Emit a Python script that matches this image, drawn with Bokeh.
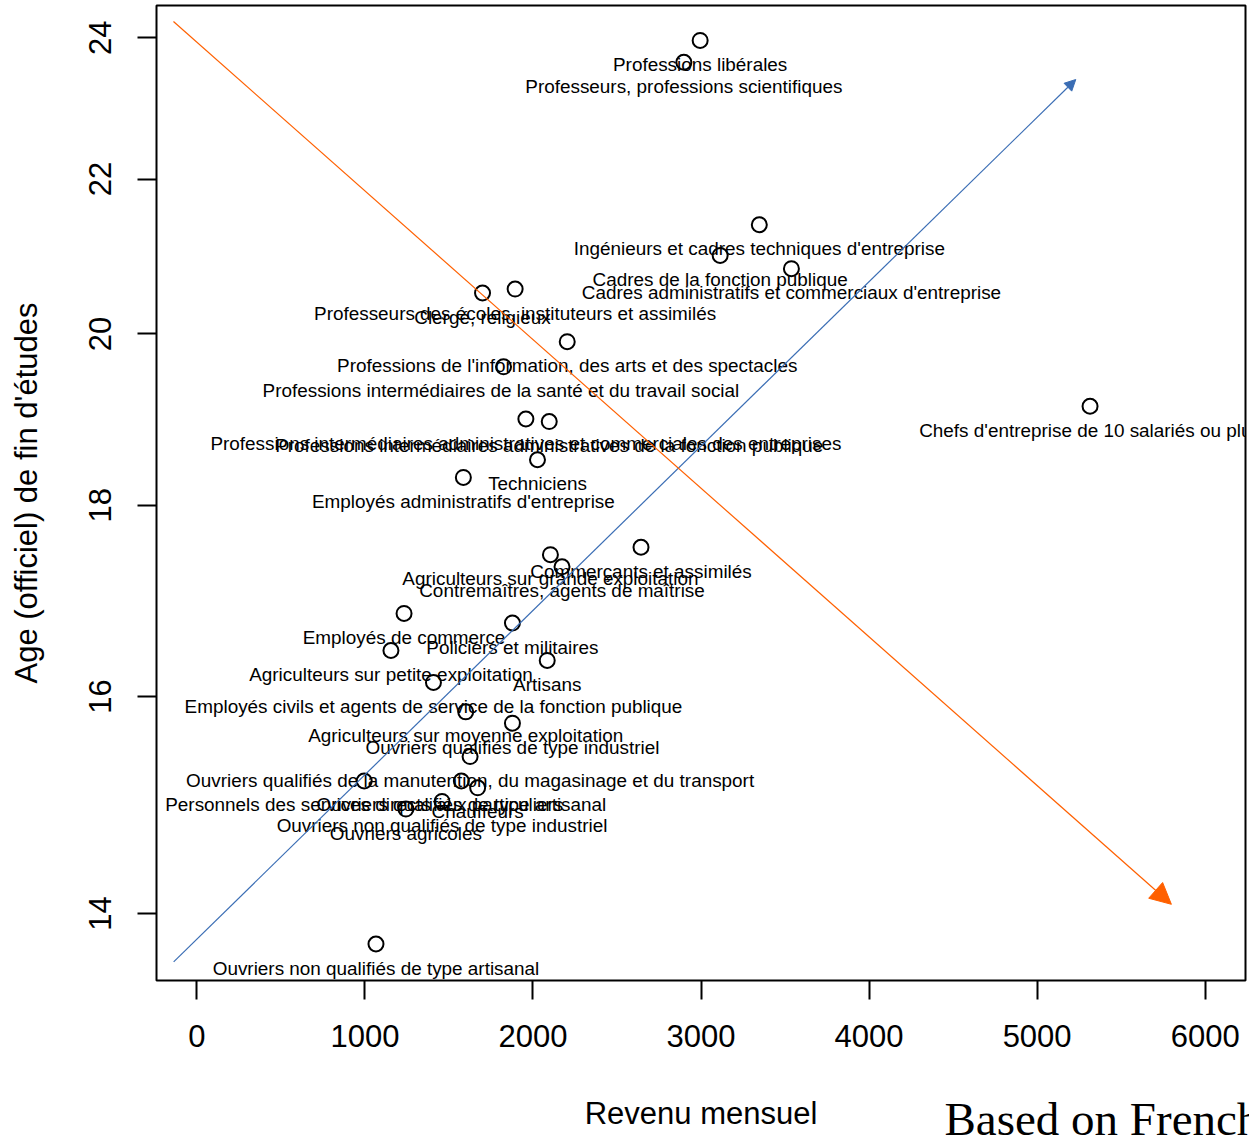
from bokeh.plotting import figure
from bokeh.models import (FixedTicker, BasicTickFormatter, Arrow, NormalHead,
                          Label, ColumnDataSource, Range1d)
from bokeh.core.properties import value
from bokeh.embed import file_html
from bokeh.resources import INLINE

# ---- data ----
categories = [
    "Professions libérales",
    "Professeurs, professions scientifiques",
    "Ingénieurs et cadres techniques d'entreprise",
    "Cadres de la fonction publique",
    "Cadres administratifs et commerciaux d'entreprise",
    "Professeurs des écoles, instituteurs et assimilés",
    "Clergé, religieux",
    "Professions de l'information, des arts et des spectacles",
    "Professions intermédiaires de la santé et  du travail social",
    "Professions intermédiaires administratives et commerciales des entreprises",
    "Professions intermédiaires administratives de la fonction publique",
    "Techniciens",
    "Employés administratifs d'entreprise",
    "Chefs d'entreprise de 10 salariés ou plus",
    "Commerçants et assimilés",
    "Agriculteurs sur grande exploitation",
    "Contremaîtres, agents de maîtrise",
    "Employés de commerce",
    "Policiers et militaires",
    "Agriculteurs sur petite exploitation",
    "Artisans",
    "Employés civils et agents de service de la fonction publique",
    "Agriculteurs sur moyenne exploitation",
    "Ouvriers qualifiés de type industriel",
    "Ouvriers qualifiés de la manutention, du magasinage et du transport",
    "Personnels des services directs aux particuliers",
    "Ouvriers qualifiés de type artisanal",
    "Chauffeurs",
    "Ouvriers non qualifiés de type industriel",
    "Ouvriers agricoles",
    "Ouvriers non qualifiés de type artisanal",
]
revenu = [2995, 2898, 3347, 3114, 3538, 1894, 1700, 2204, 1825, 1958, 2097,
          2027, 1586, 5315, 2643, 2104, 2173, 1233, 1878, 1155, 2085, 1408,
          1600, 1878, 1626, 996, 1574, 1671, 1459, 1244, 1066]
age = [23.96, 23.64, 21.39, 20.99, 20.82, 20.56, 20.51, 19.905, 19.60, 18.98,
       18.95, 18.51, 18.31, 19.13, 17.54, 17.46, 17.33, 16.84, 16.74, 16.46,
       16.36, 16.14, 15.85, 15.74, 15.42, 15.19, 15.19, 15.126, 15.00, 14.93,
       13.74]

x_ticks = [0, 1000, 2000, 3000, 4000, 5000, 6000]
y_ticks = [14, 16, 18, 20, 22, 24]

# arrows (start / end in data units)
blue_arrow = dict(x0=-138, y0=13.59, x1=5230, y1=23.39)
orange_arrow = dict(x0=-139, y0=24.24, x1=5799, y1=14.08)

x_label = "Revenu mensuel"
y_label = "Age (officiel) de fin d'études"
caption = "Based on French"

# ---- figure ----
p = figure(width=1249, height=1138, output_backend="svg", toolbar_location=None,
           x_range=Range1d(-240, 6240), y_range=Range1d(13.435, 24.48),
           y_axis_type="log",
           min_border_left=156, min_border_right=4, min_border_top=5,
           min_border_bottom=158)

p.background_fill_color = "white"
p.border_fill_color = "white"
p.grid.visible = False
p.outline_line_color = "black"
p.outline_line_width = 2

FONT = "Liberation Sans"

for ax in (p.xaxis[0], p.yaxis[0]):
    ax.axis_line_color = None
    ax.major_tick_out = 19
    ax.major_tick_in = 0
    ax.major_tick_line_width = 2
    ax.major_tick_line_color = "black"
    ax.minor_tick_line_color = None
    ax.major_label_text_font = FONT
    ax.major_label_text_font_size = "31px"
    ax.major_label_text_color = "black"
    ax.axis_label_text_font = FONT
    ax.axis_label_text_font_size = "31px"
    ax.axis_label_text_font_style = "normal"
    ax.axis_label_text_color = "black"

p.xaxis.ticker = FixedTicker(ticks=x_ticks)
p.xaxis.formatter = BasicTickFormatter(use_scientific=False)
p.xaxis.major_label_standoff = 25

p.yaxis.ticker = FixedTicker(ticks=y_ticks)
p.yaxis.formatter = BasicTickFormatter(use_scientific=False)
p.yaxis.major_label_orientation = "vertical"
p.yaxis.axis_label = y_label
p.yaxis.major_label_standoff = 26
p.yaxis.axis_label_standoff = 43

src = ColumnDataSource(dict(x=revenu, y=age, name=categories))

p.scatter("x", "y", source=src, marker="circle", size=15,
          fill_color=None, line_color="black", line_width=2)

p.text("x", "y", text="name", source=src, text_align="center",
       text_baseline="alphabetic", y_offset=24,
       text_font=value(FONT), text_font_size="18.9px", text_color="black")

BLUE = "#3A6DB4"
ORANGE = "#FF6000"
p.add_layout(Arrow(end=NormalHead(size=11, fill_color=BLUE, line_color=BLUE),
                   x_start=blue_arrow["x0"], y_start=blue_arrow["y0"],
                   x_end=blue_arrow["x1"], y_end=blue_arrow["y1"],
                   line_color=BLUE, line_width=1.2))
p.add_layout(Arrow(end=NormalHead(size=21, fill_color=ORANGE, line_color=ORANGE),
                   x_start=orange_arrow["x0"], y_start=orange_arrow["y0"],
                   x_end=orange_arrow["x1"], y_end=orange_arrow["y1"],
                   line_color=ORANGE, line_width=1.2))

# x-axis title and caption as labels in the area below the frame
p.add_layout(Label(x=544.5, y=-29, x_units="screen", y_units="screen",
                   text=x_label, text_font=FONT, text_font_size="31px",
                   text_color="black", text_baseline="alphabetic",
                   text_align="center"), "below")
p.add_layout(Label(x=788, y=18, x_units="screen", y_units="screen",
                   text=caption, text_font="Liberation Serif",
                   text_font_size="47px", text_color="black",
                   text_baseline="alphabetic", text_align="left"), "below")

open("out.html", "w").write(file_html(p, INLINE))
